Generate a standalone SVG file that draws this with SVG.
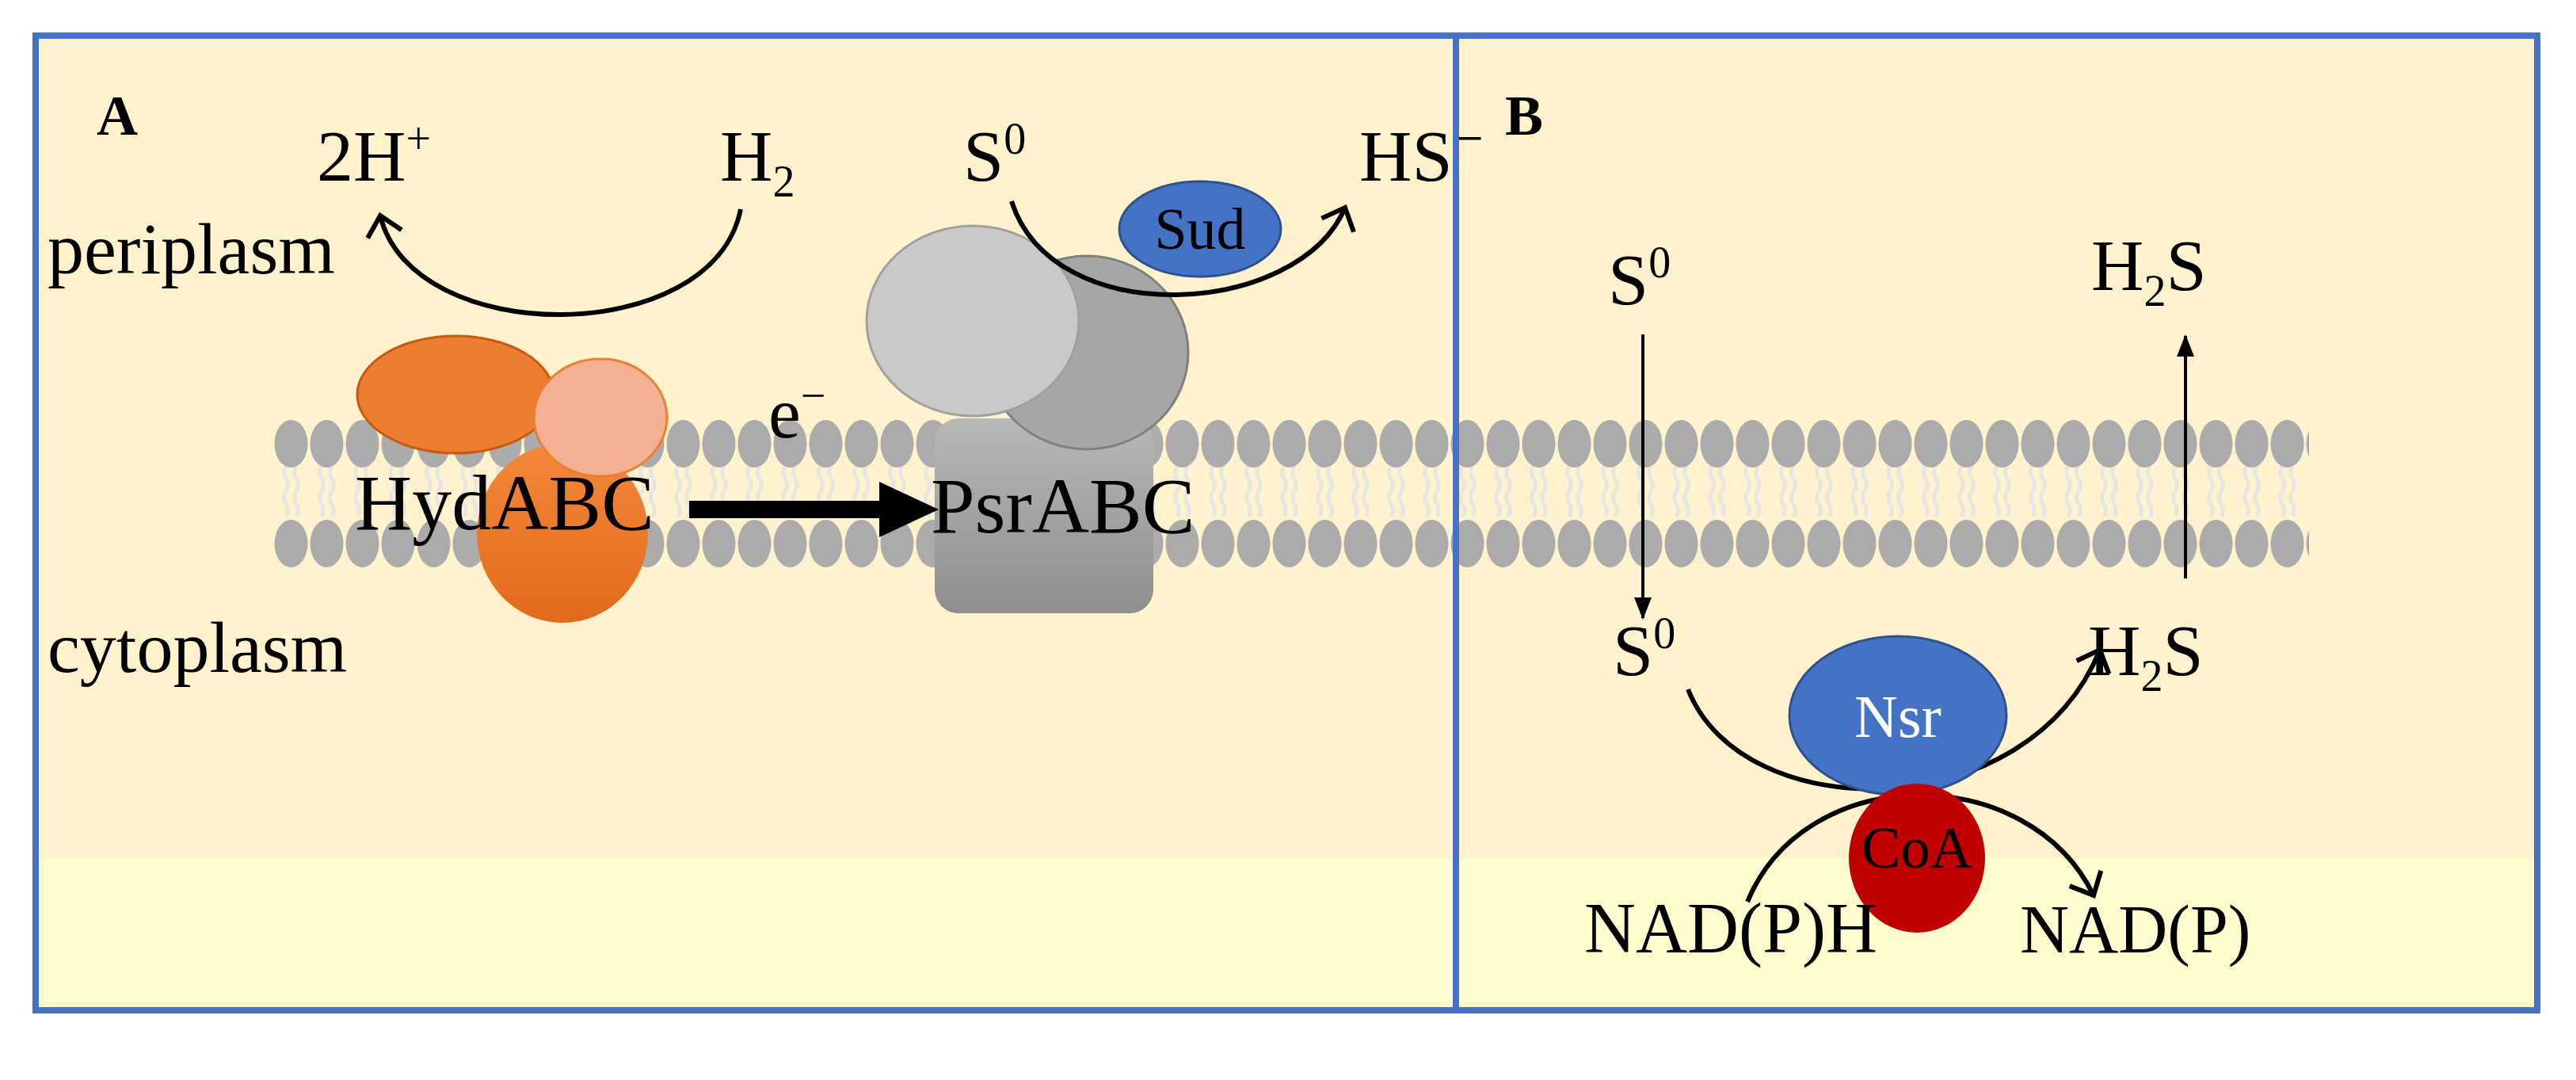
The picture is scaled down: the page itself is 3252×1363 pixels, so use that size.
<svg xmlns="http://www.w3.org/2000/svg" width="3252" height="1363" viewBox="0 0 3252 1363">
<style>
text{font-family:"Liberation Serif","Times New Roman",serif;fill:#000}
.lbl{font-size:92px}
.sup{font-size:56px}
.arc{fill:none;stroke:#000;stroke-width:6}
</style>
<defs>
<marker id="open" markerUnits="userSpaceOnUse" markerWidth="60" markerHeight="60" refX="28" refY="28" orient="auto" overflow="visible">
<path d="M4,6 L28,28 L4,50" fill="none" stroke="#000" stroke-width="6" stroke-linejoin="miter"/>
</marker>
<marker id="tri" markerUnits="userSpaceOnUse" markerWidth="30" markerHeight="30" refX="26" refY="11" orient="auto" overflow="visible">
<path d="M0,0 L28,11 L0,22 Z" fill="#000"/>
</marker>
<pattern id="mem" x="345" y="528" width="45" height="190" patternUnits="userSpaceOnUse">
<path d="M16,60 q-5,8 0,16 q5,8 0,16 q-5,8 0,16 q5,8 0,16 M29,60 q-5,8 0,16 q5,8 0,16 q-5,8 0,16 q5,8 0,16" fill="none" stroke="#E6E6E6" stroke-width="5"/>
<ellipse cx="22.5" cy="32" rx="21" ry="30" fill="#ABABAB"/>
<ellipse cx="22.5" cy="158" rx="21" ry="30" fill="#ABABAB"/>
</pattern>
<linearGradient id="og" x1="0" y1="0" x2="0" y2="1"><stop offset="0" stop-color="#F3883A"/><stop offset="1" stop-color="#E26A1A"/></linearGradient>
<linearGradient id="gg" x1="0" y1="0" x2="0" y2="1"><stop offset="0" stop-color="#B8B8B8"/><stop offset="1" stop-color="#8E8E8E"/></linearGradient>
</defs>
<rect x="0" y="0" width="3252" height="1363" fill="#fff"/>
<rect x="45" y="45" width="3158" height="1040" fill="#FFF2CC"/>
<rect x="45" y="1083" width="3158" height="192" fill="#FFFDCD"/>
<rect x="345" y="528" width="2570" height="190" fill="url(#mem)"/>

<g id="hyd">
<ellipse cx="710" cy="673" rx="108" ry="113" fill="url(#og)"/>
<ellipse cx="575" cy="498" rx="124" ry="74" fill="#ED7D31" stroke="#C55A11" stroke-width="3"/>
<ellipse cx="758" cy="527" rx="84" ry="74" fill="#F4B093" stroke="#ED7D31" stroke-width="3"/>
<text x="448" y="668" style="font-size:100px">HydABC</text>
</g>
<g id="psr">
<rect x="1180" y="528" width="276" height="246" rx="30" fill="url(#gg)"/>
<ellipse cx="1372" cy="445" rx="128" ry="122" fill="#A6A6A6" stroke="#7F7F7F" stroke-width="3"/>
<ellipse cx="1228" cy="405" rx="134" ry="120" fill="#C9C9C9" stroke="#A0A0A0" stroke-width="3"/>
<text x="1175" y="672" style="font-size:100px">PsrABC</text>
</g>
<g id="connectors">
<path class="arc" d="M935,264 C900,440 520,440 480,272" marker-end="url(#open)"/>
<path class="arc" d="M1277,254 C1330,420 1640,400 1698,262" marker-end="url(#open)"/>
<line x1="870" y1="643" x2="1130" y2="643" stroke="#000" stroke-width="22"/>
<path d="M1110,608 L1185,643 L1110,678 Z" fill="#000"/>
<line x1="2074" y1="422" x2="2074" y2="780" stroke="#000" stroke-width="4" marker-end="url(#tri)"/>
<line x1="2759" y1="730" x2="2759" y2="424" stroke="#000" stroke-width="4" marker-end="url(#tri)"/>
<path class="arc" d="M2131,870 C2200,1045 2560,1045 2651,820" marker-end="url(#open)"/>
<path class="arc" d="M2206,1138 C2280,960 2560,960 2643,1130" marker-end="url(#open)"/>
</g>
<g id="sud">
<ellipse cx="1515" cy="289" rx="102" ry="60" fill="#4472C4" stroke="#2F528F" stroke-width="3"/>
<text x="1515" y="314" text-anchor="middle" style="font-size:74px">Sud</text>
</g>
<g id="nsr">
<ellipse cx="2396" cy="903" rx="137" ry="100" fill="#4472C4" stroke="#2F528F" stroke-width="3"/>
<text x="2396" y="930" text-anchor="middle" style="font-size:76px;fill:#fff">Nsr</text>
</g>
<g id="coa">
<ellipse cx="2420" cy="1083" rx="86" ry="94" fill="#C00000"/>
<text x="2420" y="1095" text-anchor="middle" style="font-size:74px">CoA</text>
</g>
<g id="labels">
<text x="122" y="170" style="font-size:72px;font-weight:bold">A</text>
<text x="1900" y="170" style="font-size:72px;font-weight:bold">B</text>
<text x="400" y="228" class="lbl">2H<tspan dy="-34" class="sup">+</tspan></text>
<text x="909" y="228" class="lbl">H<tspan dy="20" class="sup">2</tspan></text>
<text x="60" y="345" class="lbl">periplasm</text>
<text x="60" y="848" class="lbl">cytoplasm</text>
<text x="970" y="552" class="lbl">e<tspan dy="-34" class="sup">−</tspan></text>
<text x="1216" y="228" class="lbl">S<tspan dy="-34" class="sup">0</tspan></text>
<text x="1716" y="228" class="lbl">HS<tspan dy="-30" style="font-size:70px">−</tspan></text>
<text x="2030" y="384" class="lbl">S<tspan dy="-34" class="sup">0</tspan></text>
<text x="2640" y="366" class="lbl">H<tspan dy="20" class="sup">2</tspan><tspan dy="-20">S</tspan></text>
<text x="2036" y="852" class="lbl">S<tspan dy="-34" class="sup">0</tspan></text>
<text x="2636" y="852" class="lbl">H<tspan dy="20" class="sup">2</tspan><tspan dy="-20">S</tspan></text>
<text x="2000" y="1202" style="font-size:90px">NAD(P)H</text>
<text x="2550" y="1202" style="font-size:86px">NAD(P)</text>
</g>
<rect x="45" y="45" width="3158" height="1230" fill="none" stroke="#4472C4" stroke-width="8"/>
<line x1="1838" y1="45" x2="1838" y2="1275" stroke="#4472C4" stroke-width="8"/>
</svg>
